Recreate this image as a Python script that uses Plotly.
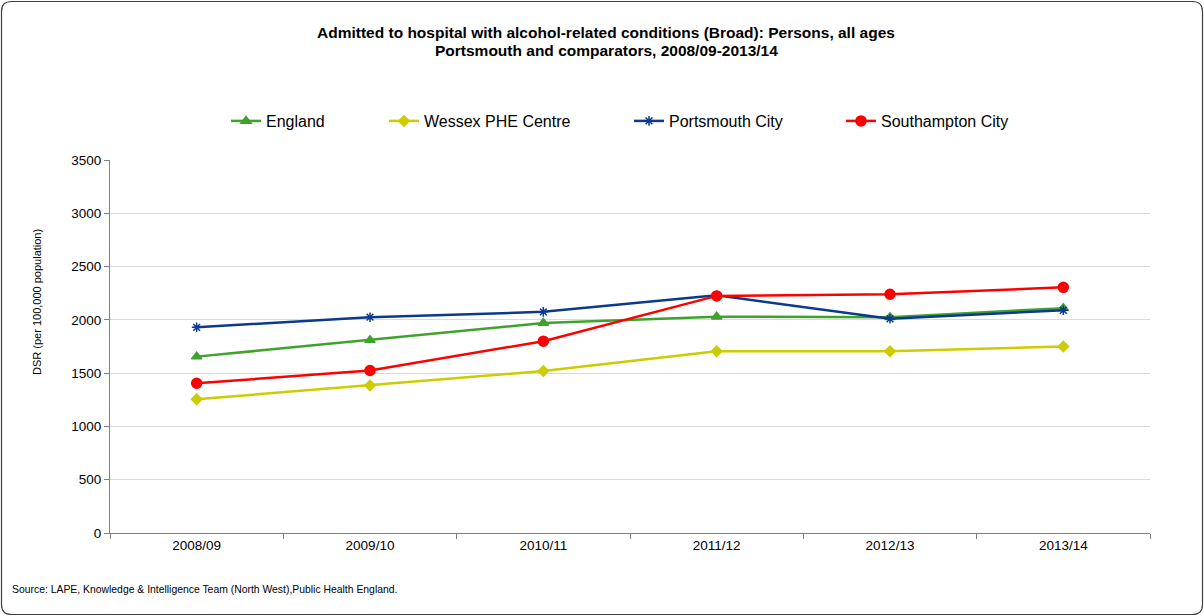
import plotly.graph_objects as go

years = ["2008/09", "2009/10", "2010/11", "2011/12", "2012/13", "2013/14"]
england = [1655, 1810, 1970, 2030, 2025, 2110]
wessex = [1255, 1385, 1520, 1705, 1705, 1750]
portsmouth = [1930, 2025, 2075, 2230, 2010, 2090]
southampton = [1405, 1525, 1800, 2225, 2240, 2305]

series = [
    ("England", england, "#3fa22c", "triangle-up", 9),
    ("Wessex PHE Centre", wessex, "#cccc00", "diamond", 8),
    ("Portsmouth City", portsmouth, "#0b3a8c", "asterisk-open", 8),
    ("Southampton City", southampton, "#ff0000", "circle", 10),
]

W, H = 1204, 616
ML, MR, MT, MB = 110, 54, 160, 83
def px(x):
    return (x - ML) / (W - ML - MR)
def py(y):
    return (H - MB - y) / (H - MT - MB)

legend_left = [226, 384, 629, 841]

fig = go.Figure()
for i, (name, vals, col, sym, sz) in enumerate(series):
    lname = "legend" if i == 0 else f"legend{i + 1}"
    fig.add_trace(go.Scatter(
        x=years, y=vals, name=name, mode="lines+markers",
        line=dict(color=col, width=2.5),
        marker=dict(symbol=sym, size=sz, color=col, line=dict(color=col, width=1.5)),
        legend=lname,
    ))

fig.update_layout(
    width=W, height=H,
    paper_bgcolor="white", plot_bgcolor="white",
    margin=dict(l=ML, r=MR, t=MT, b=MB),
    font=dict(family="Liberation Sans, Arial, sans-serif", size=12, color="#000"),
    showlegend=True,
    xaxis=dict(
        showline=True, linecolor="#808080", linewidth=1,
        ticks="outside", tickcolor="#808080", ticklen=5, tickson="boundaries",
        showgrid=False, tickfont=dict(size=13.5), range=[-0.5, 5.5],
    ),
    yaxis=dict(
        range=[0, 3500], dtick=500, showline=True, linecolor="#808080", linewidth=1,
        ticks="outside", tickcolor="#808080", ticklen=5,
        gridcolor="#d9d9d9", gridwidth=1, tickfont=dict(size=13.5),
        zeroline=False,
    ),
)

for i, lx in enumerate(legend_left):
    key = "legend" if i == 0 else f"legend{i + 1}"
    fig.update_layout({key: dict(
        x=px(lx), xanchor="left", y=py(121), yanchor="middle",
        font=dict(size=16), itemwidth=30, bgcolor="rgba(0,0,0,0)",
    )})

# rounded chart border
x0, x1, y0, y1, r = 1.5, 1202.5, 1.5, 614.5, 10
path = (f"M {px(x0 + r)},{py(y0)} L {px(x1 - r)},{py(y0)} Q {px(x1)},{py(y0)} {px(x1)},{py(y0 + r)} "
        f"L {px(x1)},{py(y1 - r)} Q {px(x1)},{py(y1)} {px(x1 - r)},{py(y1)} "
        f"L {px(x0 + r)},{py(y1)} Q {px(x0)},{py(y1)} {px(x0)},{py(y1 - r)} "
        f"L {px(x0)},{py(y0 + r)} Q {px(x0)},{py(y0)} {px(x0 + r)},{py(y0)} Z")
fig.update_layout(shapes=[dict(type="path", xref="paper", yref="paper", path=path,
                               line=dict(color="#404040", width=1.2), layer="below")])

title_lines = [
    "Admitted to hospital with alcohol-related conditions (Broad): Persons, all ages",
    "Portsmouth and comparators, 2008/09-2013/14",
]
for t, ty in zip(title_lines, [32, 50]):
    fig.add_annotation(text=f"<b>{t}</b>", xref="paper", yref="paper",
                       x=px(606), y=py(ty), xanchor="center", yanchor="middle",
                       showarrow=False, font=dict(size=15.5))

fig.add_annotation(
    text="DSR (per 100,000 population)", xref="paper", yref="paper",
    x=px(37), y=py(302), xanchor="center", yanchor="middle", textangle=-90,
    showarrow=False, font=dict(size=11),
)

fig.add_annotation(
    text="Source: LAPE, Knowledge & Intelligence Team (North West),Public Health England.",
    xref="paper", yref="paper", x=px(10), y=py(589), xanchor="left", yanchor="middle",
    showarrow=False, font=dict(size=10.4),
)

fig.write_html("out.html")
